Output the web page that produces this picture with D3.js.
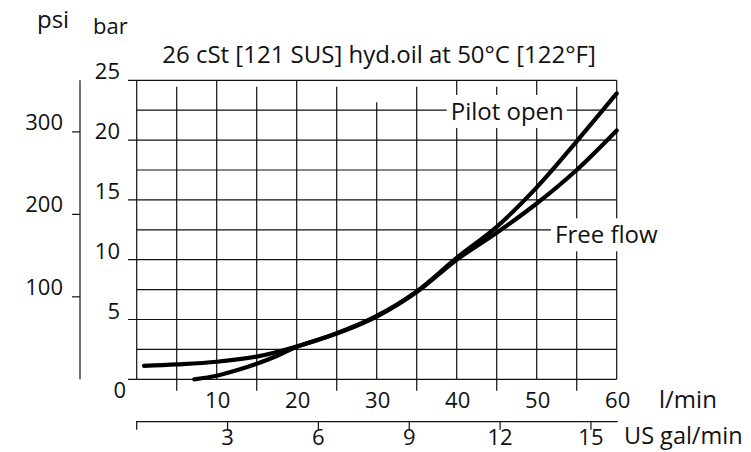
<!DOCTYPE html>
<html>
<head>
<meta charset="utf-8">
<script src="https://cdn.jsdelivr.net/npm/d3@7"></script>
<style>
  html, body { margin: 0; padding: 0; background: #fff; }
  svg { display: block; }
  text { font-family: "Open Sans", "Noto Sans", sans-serif; fill: #111; }
</style>
</head>
<body>
<svg id="chart" width="751" height="452"></svg>
<script>
// ---- data ----
const title = "26 cSt [121 SUS] hyd.oil at 50°C [122°F]";
const barTicks = [0, 5, 10, 15, 20, 25];
const barMinorTicks = [2.5, 7.5, 12.5, 17.5, 22.5];
const psiTicks = [100, 200, 300];
const lpmTicks = [10, 20, 30, 40, 50, 60];
const lpmMajorGrid = [0, 10, 20, 30, 40, 50, 60];
const lpmMinorGrid = [5, 15, 25, 35, 45, 55];
const galTicks = [0, 3, 6, 9, 12, 15];
const galLabels = [3, 6, 9, 12, 15];

const pilotFlow = [0.9, 5, 10, 15, 20, 25, 30, 35, 40, 45, 50, 55, 60];
const pilotBar  = [1.13, 1.25, 1.47, 1.9, 2.75, 3.85, 5.3, 7.35, 10.15, 12.75, 16.05, 19.9, 23.9];
const freeFlow  = [7.2, 10, 12.5, 15, 17.5, 20, 25, 30, 35, 40, 45, 50, 55, 60];
const freeBar   = [0, 0.3, 0.75, 1.3, 1.95, 2.72, 3.82, 5.25, 7.3, 10.0, 12.25, 14.7, 17.5, 20.8];

const PSI_PER_BAR = 14.5038;
const L_PER_GAL = 3.78541;

// ---- layout ----
const svg = d3.select("#chart");
const x = d3.scaleLinear().domain([0, 60]).range([136.7, 616.7]);
const y = d3.scaleLinear().domain([0, 25]).range([379.3, 80.3]);
const xg = d3.scaleLinear().domain([0, 60 / L_PER_GAL]).range([x(0), x(60)]);
const FS = 22;   // numbers
const FW = 24;   // words
const gridColor = "#111";
const gridW = 1.2;

const grid = svg.append("g").attr("stroke", gridColor).attr("stroke-width", gridW);

// horizontal grid
grid.selectAll("line.hmaj").data(barTicks).join("line")
  .attr("x1", x(0) - 8.7).attr("x2", x(60))
  .attr("y1", d => y(d)).attr("y2", d => y(d));
grid.selectAll("line.hmin").data(barMinorTicks).join("line")
  .attr("x1", x(0)).attr("x2", x(60))
  .attr("y1", d => y(d)).attr("y2", d => y(d));
// vertical grid
grid.selectAll("line.vmaj").data(lpmMajorGrid).join("line")
  .attr("x1", d => x(d)).attr("x2", d => x(d))
  .attr("y1", d => d === 30 ? y(25) + 22 : y(25)).attr("y2", y(0));
grid.selectAll("line.vmin").data(lpmMinorGrid).join("line")
  .attr("x1", d => x(d)).attr("x2", d => x(d))
  .attr("y1", y(25) + 6.4).attr("y2", y(0) + 11.4);

// psi axis
const psiX = 80;
svg.append("line").attr("x1", psiX).attr("x2", psiX).attr("y1", y(25)).attr("y2", y(0))
  .attr("stroke", gridColor).attr("stroke-width", gridW);
svg.selectAll("line.psit").data(psiTicks).join("line")
  .attr("x1", psiX - 8).attr("x2", psiX)
  .attr("y1", d => y(d / PSI_PER_BAR)).attr("y2", d => y(d / PSI_PER_BAR))
  .attr("stroke", gridColor).attr("stroke-width", gridW);
svg.selectAll("text.psil").data(psiTicks).join("text")
  .attr("x", 63).attr("y", d => y(d / PSI_PER_BAR) - 2)
  .attr("text-anchor", "end").attr("font-size", FS).text(d => d);

// bar labels
svg.selectAll("text.barl").data(barTicks).join("text")
  .attr("x", d => d === 0 ? 126 : 120)
  .attr("y", d => d === 0 ? 398 : y(d) - 1)
  .attr("text-anchor", "end").attr("font-size", FS).text(d => d);

// l/min labels
svg.selectAll("text.lpml").data(lpmTicks).join("text")
  .attr("x", d => x(d) + 1).attr("y", 408)
  .attr("text-anchor", "middle").attr("font-size", FS).text(d => d);
svg.append("text").attr("x", 659).attr("y", 408).attr("font-size", FW).text("l/min");

// US gal axis
const galY = 421.7;
svg.append("line").attr("x1", x(0) - 0.7).attr("x2", x(60) + 1).attr("y1", galY).attr("y2", galY)
  .attr("stroke", gridColor).attr("stroke-width", gridW);
svg.selectAll("line.galt").data(galTicks).join("line")
  .attr("x1", d => xg(d)).attr("x2", d => xg(d)).attr("y1", galY).attr("y2", galY + 8)
  .attr("stroke", gridColor).attr("stroke-width", gridW);
svg.selectAll("text.gall").data(galLabels).join("text")
  .attr("x", d => xg(d)).attr("y", 445)
  .attr("text-anchor", "middle").attr("font-size", FS).text(d => d);
svg.append("text").attr("x", 624).attr("y", 444).attr("font-size", 23.5).text("US gal/min");

// unit labels and title
svg.append("text").attr("x", 37).attr("y", 28).attr("font-size", FW).text("psi");
svg.append("text").attr("x", 93).attr("y", 34).attr("font-size", FS).text("bar");
svg.append("text").attr("x", 379).attr("y", 63).attr("text-anchor", "middle")
  .attr("font-size", 24).text(title);

// curve labels with white backgrounds
function label(txt, tx, ty) {
  const g = svg.append("g");
  const r = g.append("rect").attr("fill", "#fff");
  const t = g.append("text").attr("x", tx).attr("y", ty).attr("font-size", FW).text(txt);
  const b = t.node().getBBox();
  r.attr("x", b.x - 4).attr("y", b.y + 1).attr("width", b.width + 7).attr("height", b.height);
}
label("Pilot open", 450.7, 120);
label("Free flow", 555, 243.3);

// curves
const line = d3.line().x(d => x(d[0])).y(d => y(d[1])).curve(d3.curveCatmullRom.alpha(0.5));
const pilot = pilotFlow.map((f, i) => [f, pilotBar[i]]);
const free = freeFlow.map((f, i) => [f, freeBar[i]]);
[pilot, free].forEach(s => {
  svg.append("path").datum(s).attr("d", line)
    .attr("fill", "none").attr("stroke", "#000").attr("stroke-width", 4.2)
    .attr("stroke-linecap", "round").attr("stroke-linejoin", "round");
});
</script>
</body>
</html>
